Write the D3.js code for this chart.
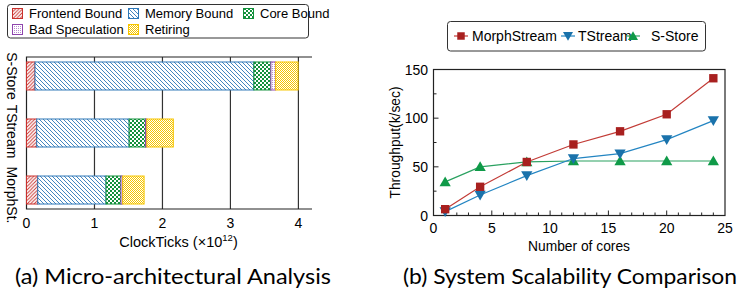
<!DOCTYPE html>
<html>
<head>
<meta charset="utf-8">
<script src="https://cdn.jsdelivr.net/npm/d3@7"></script>
<style>
  body { margin: 0; background: #fff; }
  svg { display: block; font-family: "Liberation Sans", Arial, sans-serif; }
</style>
</head>
<body>
<svg id="chart" width="741" height="299"></svg>
<script>
// ---- data: micro-architectural breakdown (x10^12 clock ticks)
const systems = ["S-Store", "TStream", "MorphSt."]
const components = ["Frontend Bound", "Memory Bound", "Core Bound", "Bad Speculation", "Retiring"]
const frontend = [0.125, 0.15, 0.165]
const memory = [3.22, 1.36, 1.005]
const core = [0.25, 0.24, 0.22]
const badSpec = [0.07, 0.02, 0.025]
const retiring = [0.33, 0.39, 0.315]
const clockTicks = [0, 1, 2, 3, 4]

// ---- data: scalability
const cores = [1, 4, 8, 12, 16, 20, 24]
const morphStream = [6.5, 29.5, 55, 73, 86.5, 104, 141]
const tStream = [4, 21, 41, 58.5, 63.5, 78, 97.5]
const sStore = [34.5, 50, 55, 56, 56, 56, 56]
const coreTicks = [0, 5, 10, 15, 20, 25]
const tputTicks = [0, 50, 100, 150]

const svg = d3.select("#chart")
const defs = svg.append("defs")

const colors = {
  red: "#c9302c", blue: "#2f78b8", green: "#13913c", purple: "#8e44ad", yellow: "#f7c600"
}

// hatch / dot patterns
function pattern(id, size, draw) {
  const p = defs.append("pattern").attr("id", id)
    .attr("patternUnits", "userSpaceOnUse")
    .attr("width", size).attr("height", size)
  p.append("rect").attr("width", size).attr("height", size).attr("fill", "#fff")
  draw(p)
}
pattern("p-front", 3.5, p => p.append("path")
  .attr("d", "M-1,1 l2,-2 M0,3.5 l3.5,-3.5 M2.5,4.5 l2,-2")
  .attr("stroke", colors.red).attr("stroke-width", 0.9))
pattern("p-mem", 4, p => p.append("path")
  .attr("d", "M-1,3 l2,2 M0,0 l4,4 M3,-1 l2,2")
  .attr("stroke", colors.blue).attr("stroke-width", 0.9))
pattern("p-core", 4, p => {
  p.append("rect").attr("x", 0).attr("y", 0).attr("width", 2).attr("height", 2).attr("fill", colors.green)
  p.append("rect").attr("x", 2).attr("y", 2).attr("width", 2).attr("height", 2).attr("fill", colors.green)
})
pattern("p-bad", 2, p => p.append("rect").attr("width", 1).attr("height", 1).attr("fill", "#b98cd0"))
pattern("p-ret", 2, p => {
  p.append("rect").attr("width", 1).attr("height", 1).attr("fill", colors.yellow)
  p.append("rect").attr("x", 1).attr("y", 1).attr("width", 1).attr("height", 1).attr("fill", colors.yellow)
})

const fills = ["url(#p-front)", "url(#p-mem)", "url(#p-core)", "url(#p-bad)", "url(#p-ret)"]
const strokes = [colors.red, colors.blue, colors.green, colors.purple, colors.yellow]

// ================= left chart =================
const xL = d3.scaleLinear().domain([0, 4.2]).range([26.5, 312])
const yL = d3.scalePoint().domain(systems).range([57, 209]).padding(0.333)
const barH = 28

const left = svg.append("g")

// grid lines
left.selectAll(".grid").data(clockTicks.slice(1)).join("line")
  .attr("x1", d => xL(d)).attr("x2", d => xL(d))
  .attr("y1", 57).attr("y2", 209)
  .attr("stroke", "#333").attr("stroke-width", 1.2)

// frame
left.append("path")
  .attr("d", `M${xL.range()[1]},57 H${xL(0)} V209 H${xL.range()[1]}`)
  .attr("fill", "none").attr("stroke", "#222").attr("stroke-width", 1.2)

const stacks = systems.map((s, i) => {
  const vals = [frontend[i], memory[i], core[i], badSpec[i], retiring[i]]
  let acc = 0
  return vals.map((v, k) => { const seg = {sys: s, k, x0: acc, x1: acc + v}; acc += v; return seg })
})

left.selectAll(".bar").data(stacks.flat()).join("rect")
  .attr("x", d => xL(d.x0))
  .attr("width", d => xL(d.x1) - xL(d.x0))
  .attr("y", d => yL(d.sys) - barH / 2)
  .attr("height", barH)
  .attr("fill", d => fills[d.k])
  .attr("stroke", d => strokes[d.k])
  .attr("stroke-width", 1)

// tick labels x
left.selectAll(".xt").data(clockTicks).join("text")
  .attr("x", d => xL(d)).attr("y", 228)
  .attr("text-anchor", "middle").attr("font-size", 14)
  .text(d => d)

const xLab = left.append("text").attr("x", 178.5).attr("y", 247)
  .attr("text-anchor", "middle").attr("font-size", 14.5)
xLab.append("tspan").text("ClockTicks (\u00d710")
xLab.append("tspan").attr("font-size", 9.5).attr("dy", -6).text("12")
xLab.append("tspan").attr("dy", 6).text(")")

// y labels, rotated (slightly spread apart like the original)
const labelShift = [0, -1.5, 5]
left.selectAll(".yl").data(systems).join("text")
  .attr("transform", (d, i) => `translate(7,${yL(d) + labelShift[i]}) rotate(90)`)
  .attr("text-anchor", "middle").attr("font-size", 14)
  .text(d => d)

// legend
left.append("rect").attr("x", 7.5).attr("y", 4.5).attr("width", 301).attr("height", 33.5)
  .attr("rx", 3).attr("fill", "#fff").attr("stroke", "#333").attr("stroke-width", 1)
const legPos = [[12, 8], [128, 8], [243, 8], [12, 24], [128, 24]]
components.forEach((c, k) => {
  const [lx, ly] = legPos[k]
  left.append("rect").attr("x", lx + 0.5).attr("y", ly + 0.5).attr("width", 10).attr("height", 10)
    .attr("fill", fills[k]).attr("stroke", strokes[k])
  left.append("text").attr("x", lx + 17).attr("y", ly + 10)
    .attr("font-size", 13).text(c)
})

// ================= right chart =================
const xR = d3.scaleLinear().domain([0, 25]).range([433.5, 725])
const yR = d3.scaleLinear().domain([0, 150]).range([215.5, 69.5])
const right = svg.append("g")

right.append("rect").attr("x", xR(0)).attr("y", yR(150))
  .attr("width", xR(25) - xR(0)).attr("height", yR(0) - yR(150))
  .attr("fill", "none").attr("stroke", "#222").attr("stroke-width", 1.2)

// inward ticks
right.selectAll(".xmin").data(d3.range(1, 25)).join("line")
  .attr("x1", d => xR(d)).attr("x2", d => xR(d))
  .attr("y1", yR(0)).attr("y2", d => yR(0) - (d % 5 === 0 ? 5 : 3))
  .attr("stroke", "#222")
right.selectAll(".ymin").data(d3.range(25, 150, 25)).join("line")
  .attr("y1", d => yR(d)).attr("y2", d => yR(d))
  .attr("x1", xR(0)).attr("x2", d => xR(0) + (d % 50 === 0 ? 5 : 3))
  .attr("stroke", "#222")

right.selectAll(".xt").data(coreTicks).join("text")
  .attr("x", d => xR(d)).attr("y", 233)
  .attr("text-anchor", "middle").attr("font-size", 14).text(d => d)
right.selectAll(".yt").data(tputTicks).join("text")
  .attr("x", 428).attr("y", d => yR(d) + 5)
  .attr("text-anchor", "end").attr("font-size", 14).text(d => d)

right.append("text").attr("x", 579).attr("y", 251)
  .attr("text-anchor", "middle").attr("font-size", 13.8).text("Number of cores")
right.append("text").attr("transform", `translate(400,${yR(75)}) rotate(-90)`)
  .attr("text-anchor", "middle").attr("font-size", 13.8).text("Throughput(k/sec)")

const series = [
  {name: "MorphStream", vals: morphStream, line: "#c23b36", fill: "#a8201f", shape: d3.symbolSquare, rot: 0, size: 70},
  {name: "TStream", vals: tStream, line: "#2385c2", fill: "#1a72ab", shape: d3.symbolTriangle, rot: 180, size: 55},
  {name: "S-Store", vals: sStore, line: "#2aa160", fill: "#0f9a48", shape: d3.symbolTriangle, rot: 0, size: 55}
]

const line = d3.line().x((d, i) => xR(cores[i])).y(d => yR(d))
const drawOrder = [2, 1, 0]
drawOrder.forEach(si => {
  const s = series[si]
  right.append("path").datum(s.vals).attr("d", line)
    .attr("fill", "none").attr("stroke", s.line).attr("stroke-width", 1.2)
})
drawOrder.forEach(si => {
  const s = series[si]
  right.selectAll(".m" + si).data(s.vals).join("path")
    .attr("d", d3.symbol(s.shape, s.size))
    .attr("transform", (d, i) => `translate(${xR(cores[i])},${yR(d) + (s.shape === d3.symbolTriangle ? (s.rot ? -1 : 1) : 0)}) rotate(${s.rot})`)
    .attr("fill", s.fill)
})

// legend
right.append("rect").attr("x", 447.5).attr("y", 21.5).attr("width", 258).attr("height", 29.5)
  .attr("rx", 3).attr("fill", "#fff").attr("stroke", "#333")
const legX = [461, 568, 633]
const legText = [472, 578, 651]
series.forEach((s, i) => {
  const cx = legX[i]
  right.append("line").attr("x1", cx - 7).attr("x2", cx + 7).attr("y1", 36).attr("y2", 36)
    .attr("stroke", s.line).attr("stroke-width", 1.2)
  right.append("path").attr("d", d3.symbol(s.shape, s.size * 0.8))
    .attr("transform", `translate(${cx},${36 + (s.shape === d3.symbolTriangle ? (s.rot ? -1 : 1) : 0)}) rotate(${s.rot})`)
    .attr("fill", s.fill)
  right.append("text").attr("x", legText[i]).attr("y", 41)
    .attr("font-size", 14).text(s.name)
})

// captions
svg.append("text").attr("x", 15).attr("y", 284)
  .attr("font-family", "Lato, sans-serif").attr("font-size", 21)
  .attr("textLength", 316).attr("lengthAdjust", "spacingAndGlyphs")
  .text("(a) Micro-architectural Analysis")
svg.append("text").attr("x", 403).attr("y", 284)
  .attr("font-family", "Lato, sans-serif").attr("font-size", 21)
  .attr("textLength", 334).attr("lengthAdjust", "spacingAndGlyphs")
  .text("(b) System Scalability Comparison")
</script>
</body>
</html>
